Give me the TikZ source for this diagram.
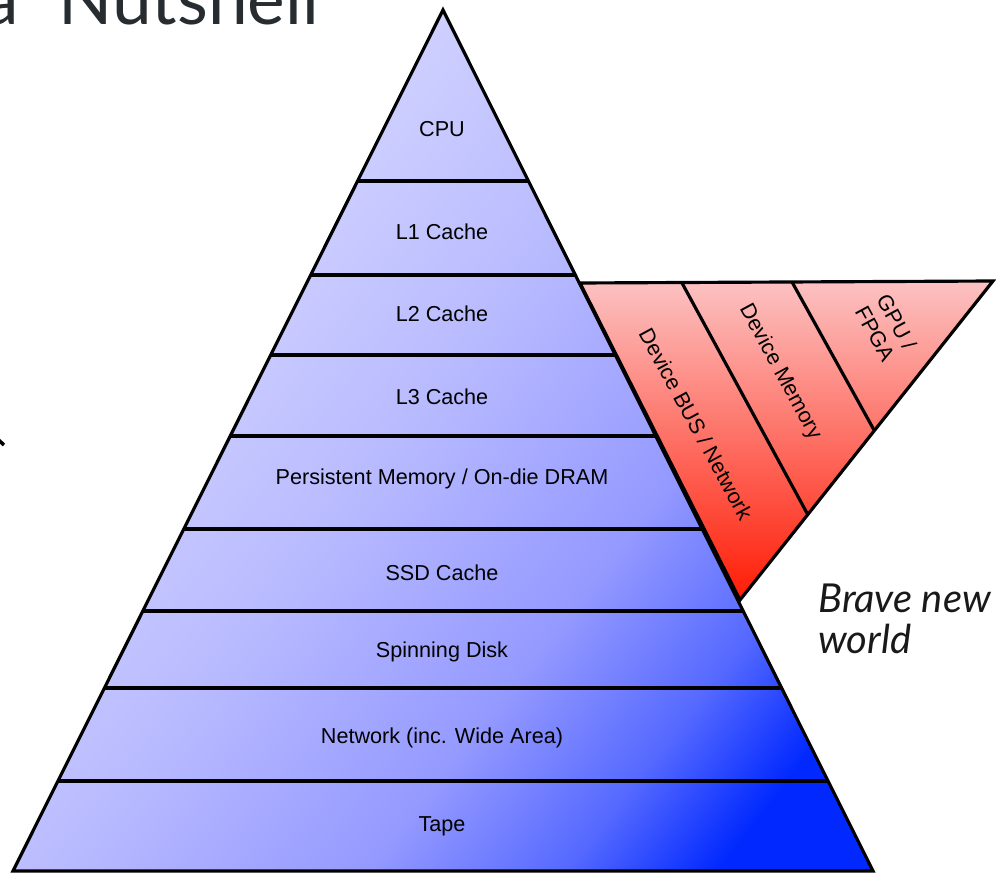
\documentclass[tikz,border=0pt]{standalone}
\usepackage{fontspec}
\setmainfont{Liberation Sans}
\newfontfamily\latofont{Lato}
\usepackage{xcolor}
\usetikzlibrary{calc}
\usetikzlibrary{positioning}

\definecolor{pyrlight}{RGB}{214,215,255}
\definecolor{pyrpale}{RGB}{184,186,255}
\definecolor{pyrmid}{RGB}{148,153,255}
\definecolor{pyrdark}{RGB}{85,105,255}
\definecolor{pyrdeep}{RGB}{0,40,255}
\definecolor{devlight}{RGB}{252,194,194}
\definecolor{devdeep}{RGB}{255,28,5}
\definecolor{titlegray}{RGB}{38,44,48}

\pgfdeclarehorizontalshading{pyrshade}{100bp}{color(0bp)=(pyrlight); color(30bp)=(pyrlight); color(48bp)=(pyrpale); color(62bp)=(pyrmid); color(71bp)=(pyrdark); color(78bp)=(pyrdeep); color(100bp)=(pyrdeep)}

\begin{document}
\begin{tikzpicture}[x=0.02cm,y=-0.02cm,
	rim/.style={line width=1.8pt,line join=miter},
	layer/.style={anchor=base,inner sep=0pt,font=\fontsize{12.3}{14}\selectfont},
	devlabel/.style={inner sep=0pt,rotate=-61.5,align=center,font=\fontsize{12.3}{14}\selectfont},
	bravetext/.style={anchor=base west,inner sep=0pt,font=\latofont\itshape\fontsize{22.7}{26}\selectfont,text=black!90}]
	\useasboundingbox (0,0) rectangle (996,874);
	\node[anchor=base west,inner sep=0pt,text=titlegray,font=\latofont\fontsize{40.5}{44}\selectfont] (title) at (-17,25) {a\hspace{0.3em} Nutshell};
	\draw[line width=2pt] (-8,434) -- (4,445);
	% the pyramid
	\coordinate (apex) at (443,10);
	\coordinate (bl) at (13,871);
	\coordinate (br) at (873,871);
	\shade[shading=pyrshade,shading angle=-38] (apex) -- (bl) -- (br) -- cycle;
	\foreach \ly in {181,275,355,436,529,611,688,781}{
		\draw[rim] ($(apex)!{(\ly-10)/861}!(bl)$) -- ($(apex)!{(\ly-10)/861}!(br)$);
	}
	\draw[rim] (apex) -- (bl) -- (br) -- cycle;
	\node[layer] (cpu) at (442,137) {CPU};
	\node[layer] (lone) at (442,240) {L1 Cache};
	\node[layer] (ltwo) at (442,322) {L2 Cache};
	\node[layer] (lthree) at (442,404) {L3 Cache};
	\node[layer] (pmem) at (442,484) {Persistent Memory / On-die DRAM};
	\node[layer] (ssd) at (442,580) {SSD Cache};
	\node[layer] (disk) at (442,657) {Spinning Disk};
	\node[layer] (net) at (442,743) {Network (inc. Wide Area)};
	\node[layer] (tape) at (442,831) {Tape};
	% the device wedge
	\coordinate (dtl) at (580,283);
	\coordinate (dtr) at (993,281);
	\coordinate (dbot) at (740,600);
	\shade[top color=devlight,bottom color=devdeep] (dtl) -- (dtr) -- (dbot) -- cycle;
	\draw[rim] (682,283) -- (808,515);
	\draw[rim] (792,282) -- (874,430);
	\draw[rim] (dtl) -- (dtr) -- (dbot) -- cycle;
	\node[devlabel] (bus) at (696,424) {Device BUS / Network};
	\node[devlabel] (devmem) at (780,372) {Device Memory};
	\node[devlabel] (gpu) at (886,328) {GPU /\\FPGA};
	\node[bravetext] (brave) at (818,612) {Brave new};
	\node[bravetext] (world) at (818,653) {world};
\end{tikzpicture}
\end{document}
